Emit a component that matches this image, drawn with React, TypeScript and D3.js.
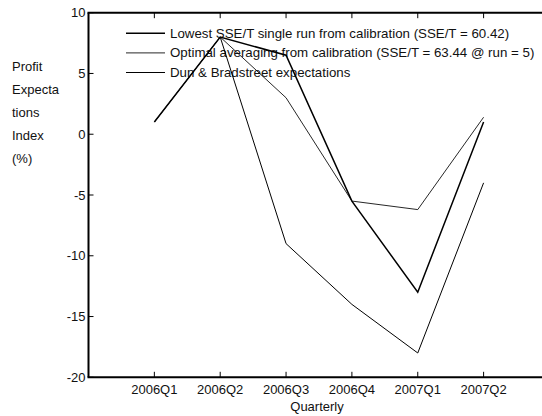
import { useEffect, useRef } from "react"
import * as d3 from "d3"

// quarters along the x axis
const quarters = ["2006Q1", "2006Q2", "2006Q3", "2006Q4", "2007Q1", "2007Q2"]

// series values (null = no value)
const lowestRun = [1, 8, 6.5, -5.5, -13, 1]
const optimalAvg = [1, 8, 3, -5.5, -6.2, 1.4]
const dunBradstreet = [null, 8, -9, -14, -18, -4]

const seriesNames = [
  "Lowest SSE/T single run from calibration (SSE/T = 60.42)",
  "Optimal averaging from calibration (SSE/T = 63.44 @ run = 5)",
  "Dun & Bradstreet expectations",
]

const yTicks = [-20, -15, -10, -5, 0, 5, 10]
const yLabelLines = ["Profit", "Expecta", "tions", "Index", "(%)"]

export default function App() {
  const svgRef = useRef<SVGSVGElement>(null)

  useEffect(() => {
    if (!svgRef.current) return
    const svg = d3.select(svgRef.current)
    svg.selectAll("*").remove()

    const width = 542
    const height = 416
    const font = "'Liberation Sans', Arial, Helvetica, sans-serif"

    const x = d3.scaleLinear().domain([0, 7]).range([88.5, 88.5 + 7 * 65.85])
    const y = d3.scaleLinear().domain([-20, 10]).range([377.3, 12.7])

    svg.attr("width", width).attr("height", height)

    const series = [
      { name: seriesNames[0], values: lowestRun, width: 1.5 },
      { name: seriesNames[1], values: optimalAvg, width: 0.85 },
      { name: seriesNames[2], values: dunBradstreet, width: 1 },
    ]

    // legend (no box, lines drawn over it)
    const legend = svg.append("g")
    series.forEach((s, i) => {
      const ly = 33.3 + i * 19.6
      legend
        .append("line")
        .attr("x1", 126)
        .attr("x2", 165)
        .attr("y1", ly)
        .attr("y2", ly)
        .attr("stroke", "#000")
        .attr("stroke-width", s.width)
      legend
        .append("text")
        .attr("x", 170)
        .attr("y", ly)
        .attr("dominant-baseline", "central")
        .attr("font-family", font)
        .attr("font-size", 13.3)
        .attr("fill", "#111")
        .text(s.name)
    })

    const line = d3
      .line<number | null>()
      .defined((d) => d !== null)
      .x((_, i) => x(i + 1))
      .y((d) => y(d as number))

    series.forEach((s) => {
      svg
        .append("path")
        .datum(s.values)
        .attr("d", line)
        .attr("fill", "none")
        .attr("stroke", "#000")
        .attr("stroke-width", s.width)
        .attr("stroke-linejoin", "miter")
    })

    // axes frame: left, bottom, top
    const x0 = x(0)
    svg
      .append("line")
      .attr("x1", x0)
      .attr("x2", x0)
      .attr("y1", y(10))
      .attr("y2", y(-20))
      .attr("stroke", "#000")
      .attr("stroke-width", 2)
    svg
      .append("line")
      .attr("x1", x0 - 1)
      .attr("x2", width)
      .attr("y1", y(-20))
      .attr("y2", y(-20))
      .attr("stroke", "#000")
      .attr("stroke-width", 2)
    svg
      .append("line")
      .attr("x1", x0 - 1)
      .attr("x2", width)
      .attr("y1", y(10))
      .attr("y2", y(10))
      .attr("stroke", "#000")
      .attr("stroke-width", 2)

    // y ticks, pointing inward
    svg
      .selectAll(".ytick")
      .data(yTicks)
      .join("line")
      .attr("x1", x0)
      .attr("x2", x0 + 5)
      .attr("y1", (d) => y(d))
      .attr("y2", (d) => y(d))
      .attr("stroke", "#000")
      .attr("stroke-width", 1)
    svg
      .selectAll(".ylab")
      .data(yTicks)
      .join("text")
      .attr("x", 85.5)
      .attr("y", (d) => y(d))
      .attr("text-anchor", "end")
      .attr("dominant-baseline", "central")
      .attr("font-family", font)
      .attr("font-size", 13)
      .attr("fill", "#111")
      .text((d) => d)

    // x ticks at bottom and top
    svg
      .selectAll(".xtick")
      .data(quarters)
      .join("line")
      .attr("x1", (_, i) => x(i + 1))
      .attr("x2", (_, i) => x(i + 1))
      .attr("y1", y(-20))
      .attr("y2", y(-20) - 5.5)
      .attr("stroke", "#000")
    svg
      .selectAll(".xtick-top")
      .data(quarters)
      .join("line")
      .attr("x1", (_, i) => x(i + 1))
      .attr("x2", (_, i) => x(i + 1))
      .attr("y1", y(10))
      .attr("y2", y(10) + 5.5)
      .attr("stroke", "#000")
    svg
      .selectAll(".xlab")
      .data(quarters)
      .join("text")
      .attr("x", (_, i) => x(i + 1))
      .attr("y", 394)
      .attr("text-anchor", "middle")
      .attr("font-family", font)
      .attr("font-size", 13)
      .attr("fill", "#111")
      .text((d) => d)

    svg
      .append("text")
      .attr("x", 317)
      .attr("y", 411)
      .attr("text-anchor", "middle")
      .attr("font-family", font)
      .attr("font-size", 13)
      .attr("fill", "#111")
      .text("Quarterly")

    svg
      .selectAll(".ytitle")
      .data(yLabelLines)
      .join("text")
      .attr("x", 12)
      .attr("y", (_, i) => 71 + i * 23)
      .attr("font-family", font)
      .attr("font-size", 13)
      .attr("fill", "#111")
      .text((d) => d)
  }, [])

  return (
    <svg
      ref={svgRef}
      style={{ position: "absolute", left: 0, top: 0, background: "#fff" }}
    />
  )
}
